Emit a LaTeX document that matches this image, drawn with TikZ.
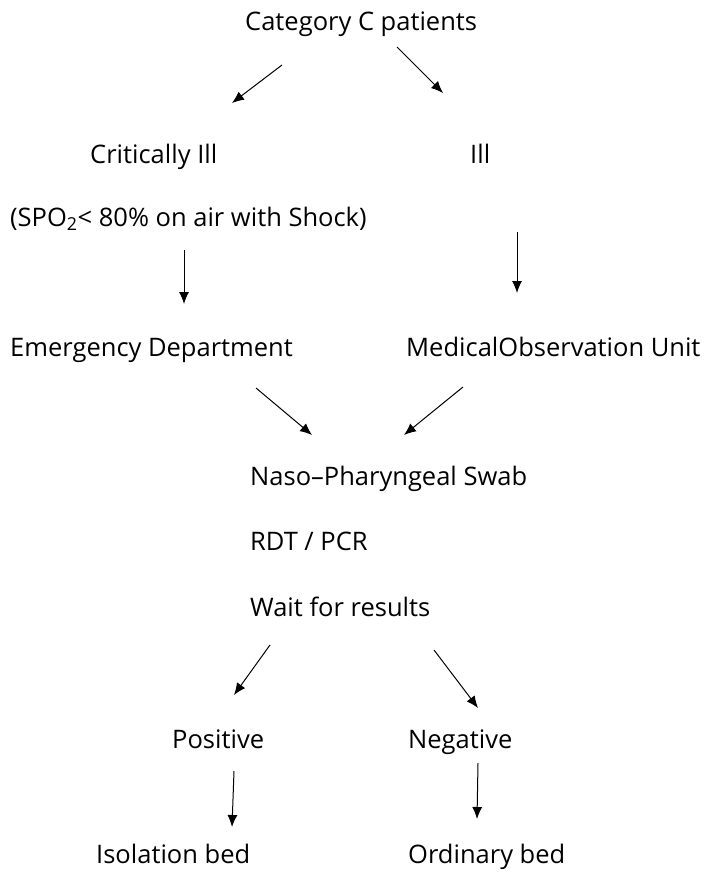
\documentclass[tikz,border=0pt]{standalone}
\usepackage{fontspec}
\setmainfont{Open Sans}
\usetikzlibrary{arrows.meta}
\begin{document}
\begin{tikzpicture}[x=1pt,y=-1pt,
  lbl/.style={inner sep=0pt,anchor=base west,font=\fontsize{25.5}{30}\selectfont},
  arr/.style={line width=1pt,-{Latex[length=12pt,width=10pt]}}]
\useasboundingbox (0,0) rectangle (704,886);
\fill[white] (0,0) rectangle (704,886);
\node[lbl] (cat) at (245,30) {Category C patients};
\node[lbl] (crit) at (90,163) {Critically Ill};
\node[lbl] (ill) at (470,163) {Ill};
\node[lbl] (spo) at (10,226) {(SPO\textsubscript{2}< 80\% on air with Shock)};
\node[lbl] (ed) at (10,356) {Emergency Department};
\node[lbl] (mou) at (406,356) {MedicalObservation Unit};
\node[lbl] (nps) at (250,485) {Naso–Pharyngeal Swab};
\node[lbl] (rdt) at (250,550) {RDT / PCR};
\node[lbl] (wait) at (250,616) {Wait for results};
\node[lbl] (pos) at (172,748) {Positive};
\node[lbl] (neg) at (408,748) {Negative};
\node[lbl] (iso) at (96,863) {Isolation bed};
\node[lbl] (ord) at (408,863) {Ordinary bed};
% arrow end points
\coordinate (a1s) at (282,65);  \coordinate (a1e) at (232,103);
\coordinate (a2s) at (397,47);  \coordinate (a2e) at (443,93);
\coordinate (a3s) at (184,250); \coordinate (a3e) at (184,304);
\coordinate (a4s) at (517,232); \coordinate (a4e) at (517,293);
\coordinate (a5s) at (256,388); \coordinate (a5e) at (312,435);
\coordinate (a6s) at (463,387); \coordinate (a6e) at (404,435);
\coordinate (a7s) at (270,645); \coordinate (a7e) at (234,695);
\coordinate (a8s) at (434,650); \coordinate (a8e) at (478,708);
\coordinate (a9s) at (234,771); \coordinate (a9e) at (232,827);
\coordinate (a10s) at (478,763); \coordinate (a10e) at (477,819);
\draw[arr] (a1s) -- (a1e);
\draw[arr] (a2s) -- (a2e);
\draw[arr] (a3s) -- (a3e);
\draw[arr] (a4s) -- (a4e);
\draw[arr] (a5s) -- (a5e);
\draw[arr] (a6s) -- (a6e);
\draw[arr] (a7s) -- (a7e);
\draw[arr] (a8s) -- (a8e);
\draw[arr] (a9s) -- (a9e);
\draw[arr] (a10s) -- (a10e);
\end{tikzpicture}
\end{document}
